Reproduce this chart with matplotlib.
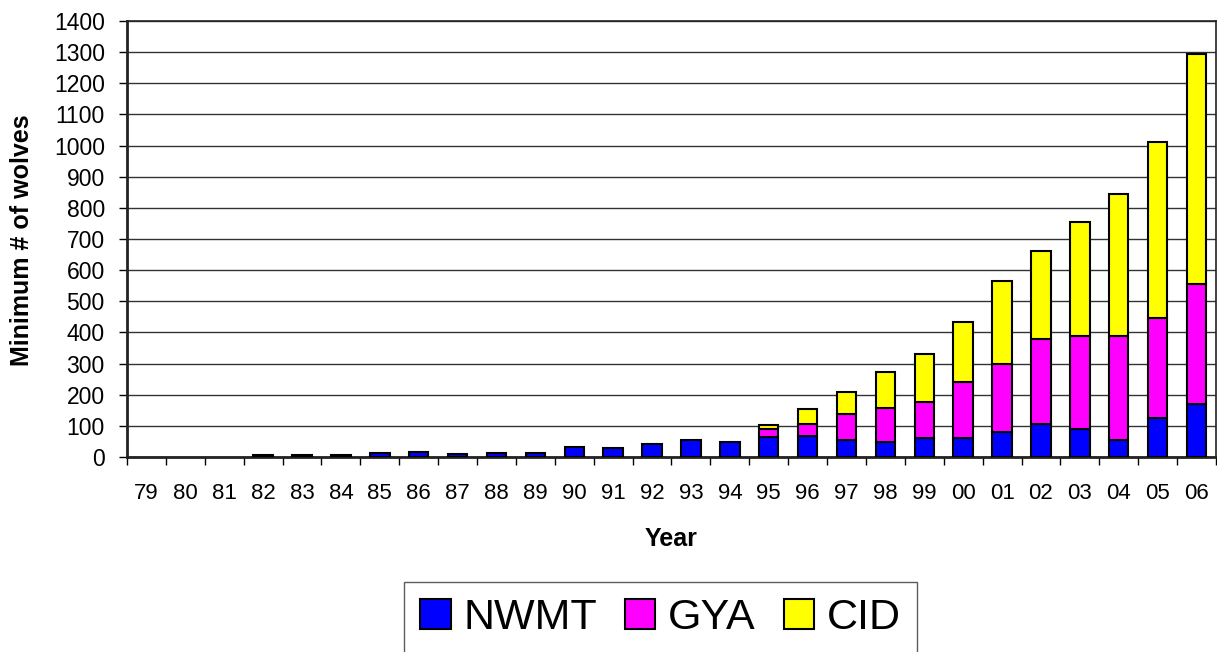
import matplotlib
matplotlib.use("Agg")
import matplotlib.pyplot as plt
from matplotlib.patches import Patch
import numpy as np

plt.rcParams['font.family'] = ['Liberation Sans', 'DejaVu Sans']

years = ["79", "80", "81", "82", "83", "84", "85", "86", "87", "88", "89", "90", "91",
         "92", "93", "94", "95", "96", "97", "98", "99", "00", "01", "02", "03", "04", "05", "06"]
nwmt = [0, 0, 0, 7, 6, 6, 13, 15, 10, 14, 12, 33, 29, 41, 55, 48, 64, 67, 55, 49, 61, 62,
        80, 106, 90, 55, 125, 170]
gya = [0] * 16 + [26, 39, 83, 108, 116, 179, 219, 272, 300, 335, 322, 387]
cid = [0] * 16 + [13, 48, 71, 116, 154, 194, 265, 282, 366, 456, 566, 738]
series_names = ["NWMT", "GYA", "CID"]
colors = ["#0000FF", "#FF00FF", "#FFFF00"]

W, H = 1217, 652
fig = plt.figure(figsize=(W / 100, H / 100), dpi=100)
ax = fig.add_axes([127 / W, 1 - 457 / H, (1216 - 127) / W, (457 - 21) / H])

x = np.arange(len(years))
nw = np.array(nwmt, dtype=float)
gy = np.array(gya, dtype=float)
ci = np.array(cid, dtype=float)
bw = 0.5
bottom = np.zeros(len(years))
for vals, c in zip([nw, gy, ci], colors):
    edges = ["black" if v > 0 else "none" for v in vals]
    ax.bar(x, vals, bw, bottom=bottom, color=c, edgecolor=edges, linewidth=1.5, zorder=3)
    bottom = bottom + vals

ax.set_xlim(-0.5, len(years) - 0.5)
ax.set_ylim(0, 1400)
ax.set_yticks(np.arange(0, 1401, 100))
ax.yaxis.grid(True, color="#333333", linewidth=1.0, zorder=0)
ax.set_axisbelow(True)

ax.set_xticks(x)
ax.set_xticklabels(years, fontsize=16)
ax.set_xticks(np.arange(-0.5, len(years), 1.0), minor=True)
ax.tick_params(axis="x", which="major", length=0, pad=19)
ax.tick_params(axis="x", which="minor", length=6, width=1, direction="out")
ax.tick_params(axis="y", which="major", length=6, width=1, direction="out", pad=10, labelsize=16.5)

for s in ["left", "bottom"]:
    ax.spines[s].set_linewidth(2)
    ax.spines[s].set_color("#222222")
for s in ["right", "top"]:
    ax.spines[s].set_linewidth(1.2)
    ax.spines[s].set_color("#222222")

fig.text(22 / W, 1 - 240 / H, "Minimum # of wolves", rotation=90, ha="center", va="center",
         fontsize=18, fontweight="bold")
fig.text(671.5 / W, 1 - 539 / H, "Year", ha="center", va="center", fontsize=18, fontweight="bold")

handles = [Patch(facecolor=c, edgecolor="black", linewidth=1.5) for c in colors]
leg = fig.legend(handles, series_names, loc="upper left", bbox_to_anchor=(404 / W, 1 - 582 / H),
                 ncol=3, fontsize=31, frameon=True, fancybox=False, borderaxespad=0,
                 handlelength=0.7, handleheight=0.7, handletextpad=0.3, columnspacing=0.65,
                 borderpad=0.38)
leg.get_frame().set_edgecolor("#333333")
leg.get_frame().set_linewidth(1.0)

fig.savefig("out.png", dpi=100)
